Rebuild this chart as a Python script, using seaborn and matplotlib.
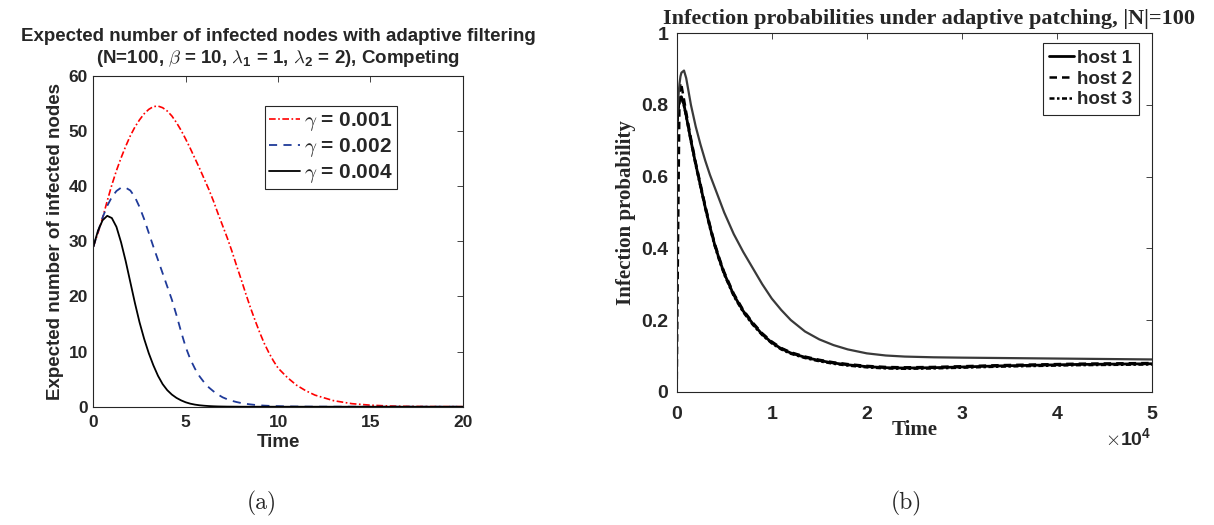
import numpy as np
import pandas as pd
import seaborn as sb
import matplotlib.pyplot as plt

sb.set_style("white")
plt.rcParams['font.family'] = ['Liberation Sans', 'DejaVu Sans']
plt.rcParams['font.weight'] = 'bold'
plt.rcParams['mathtext.fontset'] = 'cm'

# (a) expected number of infected nodes
t_a = [0, 0.25, 0.5, 0.75, 1, 1.25, 1.5, 1.75, 2, 2.25, 2.5, 2.75, 3, 3.25, 3.5, 3.75,
       4, 4.25, 4.5, 4.75, 5, 5.25, 5.5, 5.75, 6, 6.25, 6.5, 6.75, 7, 7.25, 7.5, 7.75,
       8, 8.25, 8.5, 8.75, 9, 9.25, 9.5, 9.75, 10,
       10.5, 11, 11.5, 12, 13, 14, 15, 16, 17, 18, 20]
gamma_001 = [29.0, 31.5, 34.2, 37.3, 40.2, 42.8, 45.1, 47.2, 49.1, 50.7,
             52.0, 53.1, 53.9, 54.4, 54.5, 54.2, 53.6, 52.7, 51.5, 50.1,
             48.5, 46.8, 45.0, 43.2, 41.3, 39.4, 37.3, 35.0, 32.8, 30.6,
             28.2, 25.6, 23.1, 20.5, 18.0, 15.7, 13.5, 11.5, 9.8, 8.3, 7.0,
             5.3, 3.9, 2.9, 2.1, 1.1, 0.55, 0.28, 0.13, 0.06, 0.03, 0.01]
gamma_002 = [29.0, 31.7, 34.3, 36.4, 38.0, 39.1, 39.7, 39.7, 39.2, 38.0,
             36.2, 34.0, 31.5, 29.0, 26.6, 24.2, 21.8, 19.4, 16.6, 13.6,
             10.8, 8.6, 6.9, 5.5, 4.4, 3.5, 2.8, 2.2, 1.7, 1.35,
             1.07, 0.85, 0.67, 0.53, 0.42, 0.33, 0.26, 0.2, 0.16, 0.12, 0.1,
             0.06, 0.035, 0.02, 0.012, 0.005, 0, 0, 0, 0, 0, 0]
gamma_004 = [29.0, 31.9, 33.8, 34.6, 34.2, 32.6, 29.8, 26.4, 22.6, 18.8,
             15.3, 12.3, 9.7, 7.5, 5.6, 4.1, 3.0, 2.2, 1.6, 1.15,
             0.8, 0.55, 0.38, 0.26, 0.18, 0.12, 0.08, 0.05, 0.035, 0.02,
             0.015, 0.01, 0, 0, 0, 0, 0, 0, 0, 0, 0,
             0, 0, 0, 0, 0, 0, 0, 0, 0, 0, 0]
labels_a = [r'$\gamma$ = 0.001', r'$\gamma$ = 0.002', r'$\gamma$ = 0.004']

# (b) infection probabilities
t_b = [0, 100, 200, 300, 400, 500, 770, 1000, 1500, 2000, 2500, 3000, 3500, 4000,
       4500, 5000, 6000, 7000, 8000, 9000, 10000, 11000, 12000, 13500, 15000, 16500,
       18000, 20000, 22000, 24000, 27000, 30000, 34000, 38000, 42000, 46000, 50000]
host1 = [0.73, 0.77, 0.80, 0.815, 0.822, 0.823, 0.80, 0.77, 0.70, 0.635, 0.575, 0.515,
         0.46, 0.41, 0.368, 0.33, 0.27, 0.225, 0.19, 0.16, 0.137, 0.12, 0.108, 0.096,
         0.087, 0.08, 0.075, 0.07, 0.067, 0.066, 0.067, 0.069, 0.072, 0.074, 0.076,
         0.077, 0.078]
host2 = [0.0, 0.30, 0.58, 0.83, 0.862, 0.855, 0.815, 0.78, 0.707, 0.64, 0.58, 0.52,
         0.465, 0.414, 0.372, 0.334, 0.274, 0.228, 0.193, 0.163, 0.14, 0.122, 0.11,
         0.098, 0.089, 0.082, 0.077, 0.072, 0.069, 0.068, 0.069, 0.071, 0.074, 0.076,
         0.078, 0.079, 0.08]
host3 = [0.72, 0.765, 0.795, 0.812, 0.82, 0.821, 0.797, 0.768, 0.698, 0.632, 0.572,
         0.512, 0.457, 0.407, 0.365, 0.327, 0.267, 0.222, 0.187, 0.158, 0.135, 0.118,
         0.106, 0.094, 0.085, 0.078, 0.073, 0.068, 0.065, 0.064, 0.065, 0.067, 0.07,
         0.072, 0.074, 0.075, 0.076]
host4 = [0.75, 0.79, 0.83, 0.86, 0.88, 0.89, 0.896, 0.875, 0.80, 0.74, 0.69, 0.645,
         0.605, 0.57, 0.535, 0.50, 0.44, 0.39, 0.345, 0.30, 0.26, 0.228, 0.2, 0.168,
         0.146, 0.13, 0.118, 0.107, 0.101, 0.098, 0.096, 0.095, 0.094, 0.093, 0.092,
         0.091, 0.090]
labels_b = ['host 1', 'host 2', 'host 3']
yticklabels_b = ['0', '0.2', '0.4', '0.6', '0.8', '1']

grey = '#262626'
fig = plt.figure(figsize=(12.14, 5.25), dpi=100)
ax1 = fig.add_axes([0.0769, 0.2253, 0.3043, 0.6305])
ax2 = fig.add_axes([0.5574, 0.2539, 0.3915, 0.6827])

#### panel (a)
sb.lineplot(x=t_a, y=gamma_001, ax=ax1, color='red', lw=1.2,
            linestyle=(0, (4, 1.5, 1, 1.5)), label=labels_a[0])
sb.lineplot(x=t_a, y=gamma_002, ax=ax1, color='#1f3a99', lw=1.3,
            linestyle=(0, (4.5, 3.5)), label=labels_a[1])
sb.lineplot(x=t_a, y=gamma_004, ax=ax1, color='black', lw=1.3,
            linestyle='-', label=labels_a[2])
ax1.set_xlim(0, 20)
ax1.set_ylim(0, 60)
ax1.set_xticks([0, 5, 10, 15, 20])
ax1.set_yticks([0, 10, 20, 30, 40, 50, 60])
ax1.tick_params(direction='in', length=4, width=0.6, top=True, right=True,
                labelsize=12.5, labelcolor=grey, color=grey)
ax1.tick_params(axis='x', pad=6)
ax1.tick_params(axis='y', pad=4)
ax1.set_xlabel('Time', fontsize=13.5, fontweight='bold', color=grey, labelpad=3)
ax1.set_ylabel('Expected number of infected nodes', fontsize=13.5,
               fontweight='bold', color=grey, labelpad=3)
ax1.set_title('Expected number of infected nodes with adaptive filtering\n'
              r'(N=100, $\beta$ = 10, $\lambda_\mathdefault{1}$ = 1, '
              r'$\lambda_\mathdefault{2}$ = 2), Competing',
              fontsize=13.5, fontweight='bold', pad=9)
leg = ax1.legend(loc='upper right', bbox_to_anchor=(0.822, 0.909),
                 prop={'weight': 'bold', 'size': 15}, labelspacing=0.15,
                 handlelength=1.5, handletextpad=0.2, borderpad=0.2,
                 borderaxespad=0, fancybox=False, framealpha=1, edgecolor=grey)
leg.get_frame().set_linewidth(0.8)

#### panel (b)
sb.lineplot(x=t_b, y=host1, ax=ax2, color='black', lw=2, linestyle='-',
            label=labels_b[0])
sb.lineplot(x=t_b, y=host2, ax=ax2, color='black', lw=1.8,
            linestyle=(0, (3, 2)), label=labels_b[1])
sb.lineplot(x=t_b, y=host3, ax=ax2, color='black', lw=1.8,
            linestyle=(0, (2, 1, 1, 1)), label=labels_b[2])
sb.lineplot(x=t_b, y=host4, ax=ax2, color='#3a3a3a', lw=1.6, linestyle='-')
ax2.set_xlim(0, 50000)
ax2.set_ylim(0, 1)
ax2.set_xticks([0, 10000, 20000, 30000, 40000, 50000])
ax2.set_yticks([0, 0.2, 0.4, 0.6, 0.8, 1])
ax2.set_yticklabels(yticklabels_b)
ax2.ticklabel_format(axis='x', style='sci', scilimits=(0, 0), useMathText=True)
ax2.tick_params(direction='in', length=4, width=0.6, top=True, right=True,
                labelsize=14, labelcolor=grey, color=grey)
ax2.tick_params(axis='x', pad=10)
ax2.tick_params(axis='y', pad=6)
ax2.xaxis.get_offset_text().set_fontsize(14)
ax2.xaxis.get_offset_text().set_color(grey)
ax2.set_xlabel('Time', family='Liberation Serif', fontsize=15, fontweight='bold',
               color=grey, labelpad=-2)
ax2.set_ylabel('Infection probability', family='Liberation Serif', fontsize=15,
               fontweight='bold', color=grey, labelpad=4)
ax2.set_title('Infection probabilities under adaptive patching, |N|=100',
              family='Liberation Serif', fontsize=16, fontweight='bold', pad=7, x=0.53)
leg = ax2.legend(loc='upper right', bbox_to_anchor=(0.973, 0.973),
                 prop={'weight': 'bold', 'size': 13.5}, labelspacing=0.2,
                 handlelength=1.3, handletextpad=0.2, borderpad=0.35,
                 borderaxespad=0, fancybox=False, framealpha=1, edgecolor=grey)
leg.get_frame().set_linewidth(0.8)

for ax in [ax1, ax2]:
    for sp in ax.spines.values():
        sp.set_color(grey)
        sp.set_linewidth(0.8)

fig.text(262 / 1214, 1 - 503 / 525, '(a)', family='cmr10', fontsize=17,
         fontweight='normal', ha='center', va='center')
fig.text(906 / 1214, 1 - 503 / 525, '(b)', family='cmr10', fontsize=17,
         fontweight='normal', ha='center', va='center')

plt.savefig('out.png', dpi=100)
